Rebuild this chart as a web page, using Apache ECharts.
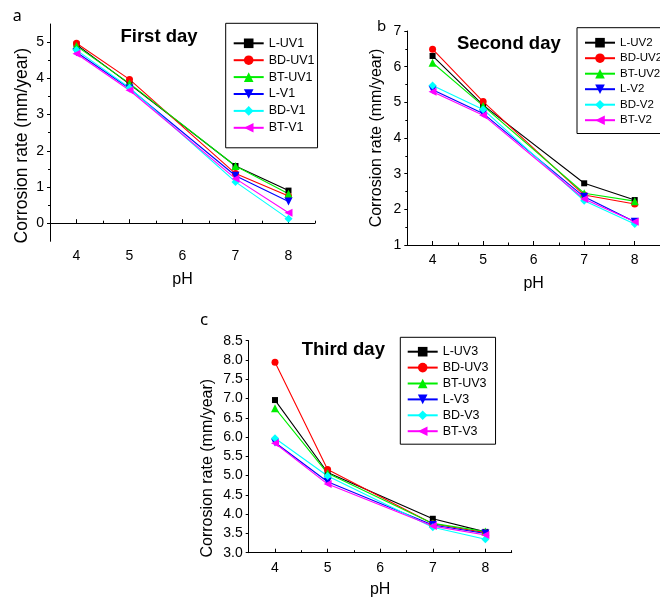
<!DOCTYPE html>
<html><head><meta charset="utf-8">
<script src="https://cdn.jsdelivr.net/npm/echarts@6/dist/echarts.min.js"></script>
<style>html,body{margin:0;padding:0;background:#fff}#c{width:660px;height:601px}</style>
</head><body><div id="c"></div>
<script>
// ---- data ----
const pH = [4, 5, 7, 8];
const namesDay1 = ['L-UV1', 'BD-UV1', 'BT-UV1', 'L-V1', 'BD-V1', 'BT-V1'];
const namesDay2 = ['L-UV2', 'BD-UV2', 'BT-UV2', 'L-V2', 'BD-V2', 'BT-V2'];
const namesDay3 = ['L-UV3', 'BD-UV3', 'BT-UV3', 'L-V3', 'BD-V3', 'BT-V3'];
const titles = ['First day', 'Second day', 'Third day'];
const panelLetters = ['a', 'b', 'c'];
const xTicks = [4, 5, 6, 7, 8];
const yTicksDay1 = [0, 1, 2, 3, 4, 5];

const lUV1 = [4.93, 3.84, 1.58, 0.90];
const bdUV1 = [4.97, 3.97, 1.37, 0.75];
const btUV1 = [4.89, 3.86, 1.58, 0.81];
const lV1 = [4.72, 3.72, 1.31, 0.60];
const bdV1 = [4.78, 3.74, 1.14, 0.12];
const btV1 = [4.68, 3.67, 1.23, 0.29];

const lUV2 = [6.30, 4.92, 2.73, 2.26];
const bdUV2 = [6.49, 5.02, 2.40, 2.15];
const btUV2 = [6.11, 4.90, 2.45, 2.23];
const lV2 = [5.35, 4.69, 2.35, 1.65];
const bdV2 = [5.47, 4.80, 2.24, 1.59];
const btV2 = [5.30, 4.64, 2.29, 1.65];

const lUV3 = [6.96, 5.08, 3.88, 3.54];
const bdUV3 = [7.94, 5.16, 3.75, 3.52];
const btUV3 = [6.75, 5.06, 3.76, 3.55];
const lV3 = [5.86, 4.84, 3.72, 3.50];
const bdV3 = [5.97, 4.99, 3.66, 3.35];
const btV3 = [5.84, 4.78, 3.69, 3.46];

// ---- styles ----
const colors = ['#000000', '#ff0000', '#00ee00', '#0000ff', '#00ffff', '#ff00ff'];
const symbols = ['rect', 'circle', 'triangle', 'triangle', 'diamond', 'triangle'];
const symRot = [0, 0, 0, 180, 0, 90];
const symSize = [6, 7, 8, 8, 8, 8];
const FONT = 'Liberation Sans, Arial, sans-serif';

const chart = echarts.init(document.getElementById('c'), null, {renderer: 'canvas'});

const grids = [
  {left: 50, top: 24, width: 265, height: 217.3},
  {left: 407.3, top: 31, width: 263.7, height: 214},
  {left: 248.7, top: 340.7, width: 263, height: 212}
];

function mainX(i, gap) {
  return {
    type: 'value', gridIndex: i, min: 3.5, max: 8.5,
    name: 'pH', nameLocation: 'middle', nameGap: gap,
    nameTextStyle: {fontFamily: FONT, fontSize: 16, color: '#000'},
    axisLine: {show: true, lineStyle: {color: '#000', width: 1}},
    axisTick: {show: true, inside: true, length: 4, customValues: xTicks, lineStyle: {color: '#000'}},
    axisLabel: {show: true, customValues: xTicks, margin: 8, fontFamily: FONT, fontSize: 14, color: '#000'},
    splitLine: {show: false}
  };
}
function minorX(i) {
  return {
    type: 'value', gridIndex: i, min: 3.5, max: 8.5, position: 'bottom',
    axisLine: {show: false},
    axisTick: {show: true, inside: true, length: 2.5, customValues: [3.5, 4.5, 5.5, 6.5, 7.5, 8.5], lineStyle: {color: '#000'}},
    axisLabel: {show: false},
    splitLine: {show: false}
  };
}
const yName = 'Corrosion rate (mm/year)';
const yAxes = [
  {
    type: 'value', gridIndex: 0, min: -0.5, max: 5.5,
    name: yName, nameLocation: 'middle', nameGap: 19,
    nameTextStyle: {fontFamily: FONT, fontSize: 17.5, color: '#000', padding: [0, 26, 0, 0]},
    axisLine: {show: true, lineStyle: {color: '#000'}},
    axisTick: {show: true, length: 3, customValues: yTicksDay1, lineStyle: {color: '#000'}},
    axisLabel: {customValues: yTicksDay1, margin: 6, fontFamily: FONT, fontSize: 14, color: '#000'},
    splitLine: {show: false}
  },
  {
    type: 'value', gridIndex: 1, min: 1, max: 7, interval: 1,
    name: yName, nameLocation: 'middle', nameGap: 23,
    nameTextStyle: {fontFamily: FONT, fontSize: 16, color: '#000'},
    axisLine: {show: true, lineStyle: {color: '#000'}},
    axisTick: {show: true, length: 3, lineStyle: {color: '#000'}},
    axisLabel: {margin: 6, fontFamily: FONT, fontSize: 14, color: '#000'},
    splitLine: {show: false}
  },
  {
    type: 'value', gridIndex: 2, min: 3.0, max: 8.5, interval: 0.5,
    name: yName, nameLocation: 'middle', nameGap: 33,
    nameTextStyle: {fontFamily: FONT, fontSize: 16, color: '#000', padding: [0, 43, 0, 0]},
    axisLine: {show: true, lineStyle: {color: '#000'}},
    axisTick: {show: true, length: 3, lineStyle: {color: '#000'}},
    axisLabel: {margin: 6, fontFamily: FONT, fontSize: 14, color: '#000', formatter: v => v.toFixed(1)},
    splitLine: {show: false}
  },
  {
    type: 'value', gridIndex: 0, min: -0.5, max: 5.5, position: 'left',
    axisLine: {show: false},
    axisTick: {show: true, length: 2, customValues: [0.5, 1.5, 2.5, 3.5, 4.5], lineStyle: {color: '#000'}},
    axisLabel: {show: false}, splitLine: {show: false}
  },
  {
    type: 'value', gridIndex: 1, min: 1, max: 7, position: 'left',
    axisLine: {show: false},
    axisTick: {show: true, length: 2, customValues: [1.5, 2.5, 3.5, 4.5, 5.5, 6.5], lineStyle: {color: '#000'}},
    axisLabel: {show: false}, splitLine: {show: false}
  }
];

function mkSeries(names, arrays, gi) {
  return names.map((n, k) => ({
    name: n, type: 'line', xAxisIndex: gi, yAxisIndex: gi,
    data: pH.map((x, j) => [x, arrays[k][j]]),
    symbol: symbols[k], symbolRotate: symRot[k], symbolSize: symSize[k],
    showAllSymbol: true,
    lineStyle: {color: colors[k], width: 1.1},
    itemStyle: {color: colors[k]},
    emphasis: {disabled: true},
    animation: false, z: 2
  }));
}
const series = [].concat(
  mkSeries(namesDay1, [lUV1, bdUV1, btUV1, lV1, bdV1, btV1], 0),
  mkSeries(namesDay2, [lUV2, bdUV2, btUV2, lV2, bdV2, btV2], 1),
  mkSeries(namesDay3, [lUV3, bdUV3, btUV3, lV3, bdV3, btV3], 2)
);

function mkLegend(names, left, top, gap, pad, fs) {
  return {
    data: names, orient: 'vertical', left: left, top: top,
    itemWidth: 30, itemHeight: 12, itemGap: gap,
    padding: pad, borderColor: '#000', borderWidth: 1, backgroundColor: '#fff',
    textStyle: {fontFamily: FONT, fontSize: fs, color: '#000', lineHeight: 13},
    selectedMode: false
  };
}

const graphics = [];
const letterPos = [[17.3, 16.5, 16], [381.5, 26.5, 15], [204, 319.8, 17]];
panelLetters.forEach((t, i) => graphics.push({
  type: 'text', x: letterPos[i][0], y: letterPos[i][1],
  style: {text: t, fontFamily: 'Noto Sans, sans-serif', fontSize: letterPos[i][2], fill: '#000', align: 'center', verticalAlign: 'middle'}
}));
const titlePos = [[159, 37], [508.8, 43.7], [343.3, 350.4]];
titles.forEach((t, i) => graphics.push({
  type: 'text', x: titlePos[i][0], y: titlePos[i][1],
  style: {text: t, fontFamily: FONT, fontSize: 18.5, fontWeight: 'bold', fill: '#000', align: 'center', verticalAlign: 'middle'}
}));

chart.setOption({
  animation: false,
  backgroundColor: '#fff',
  grid: grids,
  xAxis: [mainX(0, 30.7), mainX(1, 30.3), mainX(2, 29.3), minorX(0), minorX(1), minorX(2)],
  yAxis: yAxes,
  legend: [
    mkLegend(namesDay1, 225.7, 23.3, 3.9, [13.5, 3, 13.5, 7], 12.5),
    mkLegend(namesDay2, 577, 27.7, 2.5, [8.5, 0, 6.8, 7], 11.5),
    mkLegend(namesDay3, 400.3, 337.3, 2.9, [7.9, 7, 6.5, 6.4], 12.5)
  ],
  graphic: graphics,
  series: series
});
</script></body></html>
